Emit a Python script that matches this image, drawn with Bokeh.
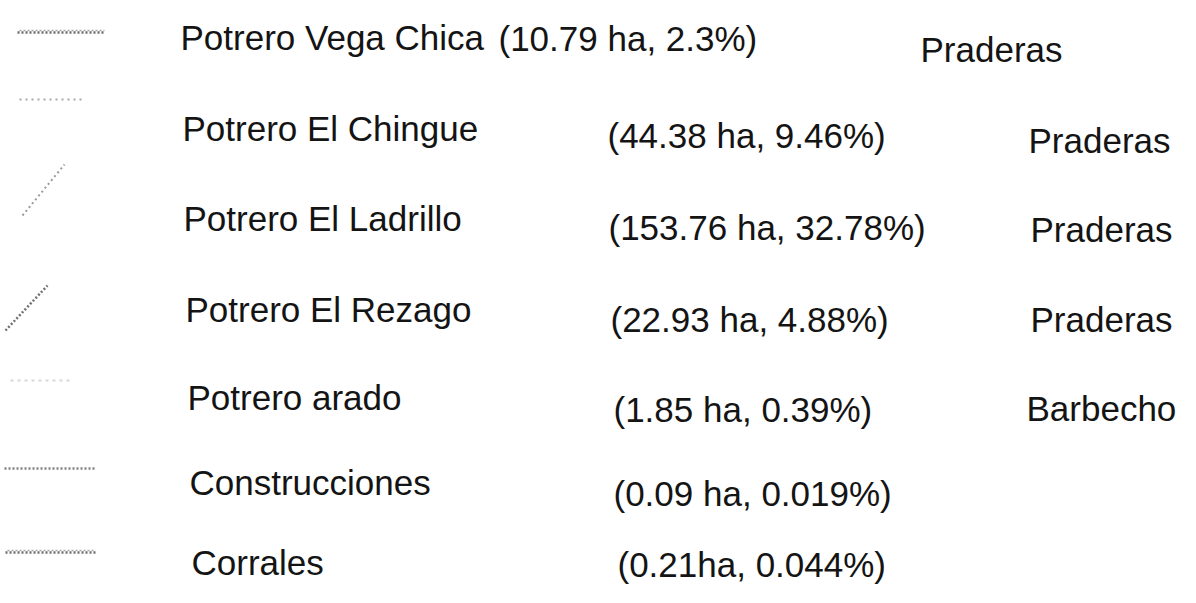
from bokeh.plotting import figure
from bokeh.models import Range1d
from bokeh.core.properties import value
from bokeh.embed import file_html
from bokeh.resources import INLINE

names = ["Potrero Vega Chica", "Potrero El Chingue", "Potrero El Ladrillo",
         "Potrero El Rezago", "Potrero arado", "Construcciones", "Corrales"]
areas_ha = ["10.79", "44.38", "153.76", "22.93", "1.85", "0.09", "0.21"]
shares_pct = ["2.3", "9.46", "32.78", "4.88", "0.39", "0.019", "0.044"]
ha_sep = [" ", " ", " ", " ", " ", " ", ""]
land_use = ["Praderas", "Praderas", "Praderas", "Praderas", "Barbecho"]

value_labels = [f"({a}{s}ha, {p}%)" for a, s, p in zip(areas_ha, ha_sep, shares_pct)]

# ---- layout (screen pixel coordinates of the scanned legend) ----
name_x = [188, 190, 191, 193, 195, 197, 199]
name_y = [45, 136, 226, 317, 405, 490, 570]
val_x = [506, 615, 616, 618, 621, 621, 625]
val_y = [46, 143, 235, 327, 417, 501, 572]
use_x = [928, 1036, 1038, 1038, 1034]
use_y = [57, 148, 237, 327, 416]

# legend symbols: dotted strokes
sym_x0 = [25, 27, 30, 13, 18, 12, 13]
sym_y0 = [40, 107, 223, 338, 388, 476, 560]
sym_x1 = [112, 93, 72, 55, 78, 102, 103]
sym_y1 = [40, 107, 172, 293, 388, 476, 560]
sym_color = ["#6a6a6a", "#a8a8a8", "#9a9a9a", "#707070", "#d8d8d8", "#808080", "#6e6e6e"]
sym_dash = ["2 2", "2 4", "2 3", "2 2", "3 4", "2 2", "2 2"]
sym_width = [2.5, 2, 2, 2.5, 2, 2.5, 2.5]

W, H = 1180, 587
p = figure(width=W, height=H, output_backend="svg", toolbar_location=None,
           title=None, x_axis_type=None, y_axis_type=None,
           x_range=Range1d(8, 8 + W), y_range=Range1d(8 + H, 8),
           min_border=0, background_fill_color="white", border_fill_color="white")
p.grid.visible = False
p.outline_line_color = None

for i in range(len(names)):
    p.segment(x0=[sym_x0[i]], y0=[sym_y0[i]], x1=[sym_x1[i]], y1=[sym_y1[i]],
              line_color=sym_color[i], line_dash=sym_dash[i], line_width=sym_width[i])
    if i in (0, 6):
        p.segment(x0=[sym_x0[i] + 2], y0=[sym_y0[i] - 2], x1=[sym_x1[i]], y1=[sym_y1[i] - 2],
                  line_color=sym_color[i], line_dash=sym_dash[i], line_width=1.5, line_alpha=0.6)

font = value("Liberation Sans")
col = "#141414"
p.text(x=name_x, y=name_y, text=names, text_font=font, text_font_size="35px",
       text_color=col, text_baseline="alphabetic", text_align="left")
p.text(x=val_x, y=val_y, text=value_labels, text_font=font, text_font_size="35px",
       text_color=col, text_baseline="alphabetic", text_align="left")
p.text(x=use_x, y=use_y, text=land_use, text_font=font, text_font_size="35px",
       text_color=col, text_baseline="alphabetic", text_align="left")

open("out.html", "w").write(file_html(p, INLINE))
